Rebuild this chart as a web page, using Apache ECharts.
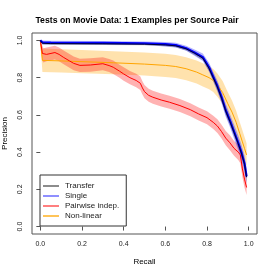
<!DOCTYPE html>
<html><head><meta charset="utf-8">
<script src="https://cdn.jsdelivr.net/npm/echarts@6/dist/echarts.min.js"></script>
<style>html,body{margin:0;padding:0;background:#fff}#c{width:274px;height:274px}</style>
</head><body><div id="c"></div>
<script>
var tickValues = [0, 0.2, 0.4, 0.6, 0.8, 1.0];
var seriesNames = ['Transfer', 'Single', 'Pairwise indep.', 'Non-linear'];

var singleX = [0, 0.01, 0.05, 0.3, 0.5, 0.6, 0.65, 0.7, 0.74, 0.78, 0.81, 0.83, 0.85, 0.87, 0.89, 0.91, 0.93, 0.95, 0.965, 0.98, 0.99];
var singleY = [1.0, 0.99, 0.988, 0.987, 0.985, 0.98, 0.975, 0.958, 0.935, 0.91, 0.856, 0.805, 0.755, 0.695, 0.625, 0.57, 0.51, 0.45, 0.40, 0.34, 0.27];
var singleLo = [1.0, 0.978, 0.978, 0.977, 0.975, 0.968, 0.962, 0.944, 0.918, 0.89, 0.832, 0.778, 0.725, 0.663, 0.59, 0.535, 0.472, 0.41, 0.358, 0.298, 0.23];
var singleHi = [1.0, 1.0, 0.998, 0.997, 0.995, 0.992, 0.988, 0.972, 0.952, 0.93, 0.88, 0.832, 0.785, 0.727, 0.66, 0.605, 0.548, 0.49, 0.442, 0.382, 0.31];

var transferX = [0, 0.01, 0.05, 0.3, 0.5, 0.6, 0.65, 0.7, 0.74, 0.78, 0.81, 0.83, 0.85, 0.87, 0.89, 0.91, 0.93, 0.95, 0.965, 0.98, 0.99];
var transferY = [1.0, 0.985, 0.983, 0.982, 0.98, 0.976, 0.971, 0.955, 0.932, 0.905, 0.85, 0.8, 0.75, 0.69, 0.62, 0.565, 0.505, 0.445, 0.395, 0.335, 0.265];
var transferLo = [1.0, 0.978, 0.977, 0.976, 0.974, 0.969, 0.963, 0.946, 0.922, 0.893, 0.836, 0.785, 0.733, 0.672, 0.6, 0.545, 0.485, 0.425, 0.375, 0.315, 0.245];
var transferHi = [1.0, 0.992, 0.989, 0.988, 0.986, 0.983, 0.979, 0.964, 0.942, 0.917, 0.864, 0.815, 0.767, 0.708, 0.64, 0.585, 0.525, 0.465, 0.415, 0.355, 0.285];

var pairX = [0, 0.01, 0.015, 0.03, 0.07, 0.09, 0.11, 0.14, 0.16, 0.19, 0.24, 0.3, 0.33, 0.35, 0.38, 0.4, 0.43, 0.46, 0.48, 0.49, 0.5, 0.52, 0.54, 0.58, 0.62, 0.67, 0.72, 0.76, 0.8, 0.83, 0.85, 0.87, 0.89, 0.91, 0.93, 0.95, 0.96, 0.97, 0.98, 0.99];
var pairY = [1.0, 0.93, 0.92, 0.925, 0.935, 0.925, 0.91, 0.89, 0.877, 0.866, 0.868, 0.875, 0.865, 0.856, 0.835, 0.82, 0.8, 0.785, 0.77, 0.745, 0.725, 0.705, 0.695, 0.68, 0.668, 0.65, 0.628, 0.605, 0.585, 0.56, 0.54, 0.51, 0.475, 0.45, 0.42, 0.4, 0.385, 0.31, 0.255, 0.21];
var pairLo = [0.99, 0.89, 0.882, 0.888, 0.898, 0.888, 0.873, 0.853, 0.84, 0.83, 0.832, 0.84, 0.83, 0.82, 0.8, 0.784, 0.764, 0.749, 0.734, 0.709, 0.69, 0.67, 0.66, 0.645, 0.633, 0.615, 0.593, 0.57, 0.55, 0.524, 0.503, 0.473, 0.437, 0.41, 0.38, 0.358, 0.34, 0.265, 0.21, 0.17];
var pairHi = [1.0, 0.97, 0.958, 0.962, 0.972, 0.962, 0.947, 0.927, 0.914, 0.902, 0.904, 0.91, 0.9, 0.892, 0.87, 0.856, 0.836, 0.821, 0.806, 0.781, 0.76, 0.74, 0.73, 0.715, 0.703, 0.685, 0.663, 0.64, 0.62, 0.596, 0.577, 0.547, 0.513, 0.49, 0.46, 0.442, 0.43, 0.355, 0.3, 0.25];

var nonlinX = [0, 0.01, 0.1, 0.2, 0.35, 0.5, 0.6, 0.65, 0.7, 0.75, 0.78, 0.81, 0.83, 0.85, 0.875, 0.9, 0.92, 0.94, 0.957, 0.97, 0.98, 0.99];
var nonlinY = [1.0, 0.893, 0.89, 0.886, 0.88, 0.873, 0.866, 0.86, 0.848, 0.83, 0.815, 0.8, 0.785, 0.76, 0.72, 0.66, 0.615, 0.56, 0.5, 0.455, 0.42, 0.385];
var nonlinLo = [0.99, 0.83, 0.828, 0.824, 0.818, 0.811, 0.804, 0.798, 0.786, 0.768, 0.753, 0.738, 0.723, 0.698, 0.658, 0.598, 0.553, 0.498, 0.438, 0.393, 0.358, 0.323];
var nonlinHi = [1.0, 0.957, 0.953, 0.948, 0.942, 0.935, 0.928, 0.922, 0.91, 0.892, 0.877, 0.862, 0.847, 0.822, 0.782, 0.722, 0.677, 0.622, 0.562, 0.517, 0.482, 0.447];

function pairs(xs, ys) { return xs.map(function (x, i) { return [x, ys[i]]; }); }
function band(xs, lo, hi, fill) {
  return {
    type: 'custom', silent: true, z: 1,
    data: [[xs[0], lo[0]]],
    renderItem: function (params, api) {
      var pts = [];
      for (var i = 0; i < xs.length; i++) pts.push(api.coord([xs[i], hi[i]]));
      for (var j = xs.length - 1; j >= 0; j--) pts.push(api.coord([xs[j], lo[j]]));
      return { type: 'polygon', shape: { points: pts }, style: { fill: fill } };
    }
  };
}
function line(name, xs, ys, color, width, z) {
  return { type: 'line', name: name, data: pairs(xs, ys), showSymbol: false, symbol: 'none',
    lineStyle: { color: color, width: width }, itemStyle: { color: color }, z: z, silent: true };
}
function legendItem(name, color) {
  return { name: name, icon: 'rect', itemStyle: { color: color, borderWidth: 0 }, lineStyle: { color: color, width: 1.3 } };
}
var FONT = 'Liberation Sans';
var chart = echarts.init(document.getElementById('c'), null, { renderer: 'canvas' });
chart.setOption({
  animation: false,
  backgroundColor: '#fff',
  title: { text: 'Tests on Movie Data: 1 Examples per Source Pair', left: 'center', top: 11,
    textStyle: { fontFamily: FONT, fontSize: 8.7, fontWeight: 'bold', color: '#000' } },
  grid: { left: 32, right: 17, top: 33, bottom: 40, containLabel: false, outerBoundsMode: 'none',
    show: true, borderColor: '#555', borderWidth: 1, backgroundColor: 'transparent' },
  xAxis: { type: 'value', min: -0.04, max: 1.04, name: 'Recall', nameLocation: 'middle', nameGap: 24,
    nameTextStyle: { fontFamily: FONT, fontSize: 8, color: '#000' },
    axisLine: { show: false }, splitLine: { show: false },
    axisTick: { show: true, length: 4, customValues: tickValues, lineStyle: { color: '#555' } },
    axisLabel: { customValues: tickValues, fontFamily: FONT, fontSize: 7, color: '#222', margin: 7,
      formatter: function (v) { return v.toFixed(1); } } },
  yAxis: { type: 'value', min: -0.04, max: 1.04, name: 'Precision', nameLocation: 'middle', nameGap: 22,
    nameTextStyle: { fontFamily: FONT, fontSize: 8, color: '#000' },
    axisLine: { show: false }, splitLine: { show: false },
    axisTick: { show: true, length: 4, customValues: tickValues, lineStyle: { color: '#555' } },
    axisLabel: { customValues: tickValues, rotate: 90, fontFamily: FONT, fontSize: 7, color: '#222', margin: 8,
      formatter: function (v) { return v.toFixed(1); } } },
  legend: { orient: 'vertical', left: 40, top: 175, borderColor: '#333', borderWidth: 1, borderRadius: 0,
    padding: [6, 7, 5, 3], itemGap: 0, itemWidth: 16, itemHeight: 1.5, icon: 'rect',
    textStyle: { fontFamily: FONT, fontSize: 8, color: '#222', lineHeight: 10, height: 10, padding: [0, 0, 0, 1] },
    data: [
      legendItem(seriesNames[0], '#666666'),
      legendItem(seriesNames[1], '#6a6aff'),
      legendItem(seriesNames[2], '#ff5555'),
      legendItem(seriesNames[3], '#ffb020')
    ] },
  series: [
    band(nonlinX, nonlinLo, nonlinHi, 'rgba(255,165,0,0.32)'),
    band(pairX, pairLo, pairHi, 'rgba(255,0,0,0.3)'),
    band(singleX, singleLo, singleHi, 'rgba(0,0,255,0.3)'),
    band(transferX, transferLo, transferHi, 'rgba(0,0,0,0.25)'),
    line(seriesNames[3], nonlinX, nonlinY, '#ffa500', 1, 5),
    line(seriesNames[2], pairX, pairY, '#ff0000', 1, 5),
    line(seriesNames[1], singleX, singleY, '#0000ff', 2.2, 6),
    line(seriesNames[0], transferX, transferY, '#000033', 1, 7)
  ]
});
</script></body></html>
